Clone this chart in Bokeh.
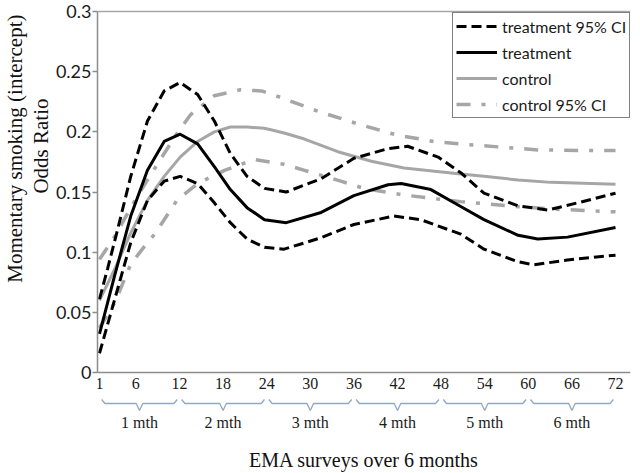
from bokeh.plotting import figure
from bokeh.models import FixedTicker, Span, Legend, LegendItem, Range1d, Title
from bokeh.embed import file_html
from bokeh.resources import INLINE
from bokeh.core.properties import value

# ---------------- data ----------------
treat_hi_x = [1, 2.1, 3.5, 5.3, 7.6, 9.9, 12.1, 14.5, 16.8, 19.0, 21.3, 23.7, 26.7, 31.5, 36.0, 40.7, 43.4, 47.6, 50.7, 53.9, 58.6, 62.7, 66.8, 72]
treat_hi_y = [0.061, 0.086, 0.119, 0.163, 0.209, 0.234, 0.241, 0.231, 0.209, 0.182, 0.163, 0.153, 0.150, 0.161, 0.178, 0.186, 0.188, 0.179, 0.166, 0.149, 0.1385, 0.135, 0.141, 0.149]

treat_x = [1, 3.1, 5.3, 7.6, 9.9, 12.1, 14.5, 16.8, 19.0, 21.3, 23.7, 26.7, 31.5, 36.0, 40.7, 42.5, 46.6, 50.7, 53.9, 58.6, 61.3, 65.4, 72]
treat_y = [0.032, 0.081, 0.130, 0.168, 0.192, 0.198, 0.190, 0.171, 0.152, 0.137, 0.127, 0.1245, 0.133, 0.147, 0.156, 0.157, 0.152, 0.138, 0.127, 0.114, 0.111, 0.1125, 0.1205]

treat_lo_x = [1, 3.1, 5.3, 7.6, 9.9, 12.1, 14.5, 16.8, 19.0, 21.3, 23.7, 26.4, 31.5, 36.0, 41.5, 45.2, 50.7, 53.9, 58.6, 60.8, 65.4, 72]
treat_lo_y = [0.016, 0.061, 0.108, 0.143, 0.159, 0.163, 0.157, 0.141, 0.1245, 0.111, 0.104, 0.1025, 0.112, 0.123, 0.130, 0.127, 0.115, 0.1025, 0.092, 0.0895, 0.0935, 0.0975]

control_x = [1, 3.1, 5.3, 7.6, 9.9, 12.1, 14.5, 16.8, 19.0, 21.3, 23.7, 26.4, 29.2, 33.8, 38.4, 42.9, 50.7, 53.9, 58.6, 63.1, 72]
control_y = [0.060, 0.086, 0.116, 0.143, 0.163, 0.179, 0.192, 0.200, 0.204, 0.204, 0.203, 0.199, 0.194, 0.1835, 0.1755, 0.170, 0.165, 0.163, 0.160, 0.158, 0.1565]

ctrl_hi_x = [1, 3.1, 5.3, 7.6, 9.9, 11.7, 13.5, 16.8, 20.4, 23.3, 25.5, 31.1, 36.6, 41.8, 47.0, 50.5, 55.8, 61.3, 66.8, 72]
ctrl_hi_y = [0.094, 0.113, 0.137, 0.160, 0.182, 0.199, 0.214, 0.230, 0.235, 0.234, 0.2295, 0.217, 0.2065, 0.1975, 0.192, 0.190, 0.1875, 0.185, 0.1845, 0.1845]

ctrl_lo_x = [1, 3.1, 5.3, 7.6, 8.6, 9.9, 11.7, 14.5, 18.2, 22.3, 26.4, 29.2, 34.2, 37.4, 42.9, 48.4, 50.7, 57.2, 62.7, 68.2, 72]
ctrl_lo_y = [0.037, 0.058, 0.090, 0.108, 0.115, 0.127, 0.1435, 0.157, 0.168, 0.177, 0.173, 0.168, 0.159, 0.153, 0.1475, 0.1435, 0.142, 0.1385, 0.136, 0.1345, 0.1335]

x_tick_vals = [1, 6, 12, 18, 24, 30, 36, 42, 48, 54, 60, 66, 72]
x_tick_labels = ["1", "6", "12", "18", "24", "30", "36", "42", "48", "54", "60", "66", "72"]
month_edges = [1, 12, 24, 36, 48, 60, 72]
month_labels = ["1 mth", "2 mth", "3 mth", "4 mth", "5 mth", "6 mth"]
y_ticks = [0, 0.05, 0.1, 0.15, 0.2, 0.25, 0.3]
y_tick_labels = ["0", "0.05", "0.1", "0.15", "0.2", "0.25", "0.3"]

legend_labels = ["treatment 95% CI", "treatment", "control", "control 95% CI"]
y_title_lines = ["Momentary smoking (intercept)", "Odds Ratio"]
x_title = "EMA surveys over 6 months"

# ---------------- layout ----------------
W, H = 640, 473
BORDER_L, BORDER_R, BORDER_B = 96, 10, 40
FRAME_H = H - BORDER_B          # frame spans screen y 0..433
ZERO_PX = 372                   # screen y of value 0
TOP_PX = 11                     # screen y of value 0.3
PPU_Y = (ZERO_PX - TOP_PX) / y_ticks[-1]
y0 = -(FRAME_H - ZERO_PX) / PPU_Y
y1 = ZERO_PX / PPU_Y

GRAY = "#A6A6A6"
AXIS_GRAY = "#8C8C8C"
BRACE = "#8FA8C6"
TXT = "#1a1a1a"

p = figure(width=W, height=H, output_backend="svg", toolbar_location=None,
           x_range=Range1d(0.7254, 74.06), y_range=Range1d(y0, y1),
           min_border_left=BORDER_L, min_border_right=BORDER_R,
           min_border_top=0, min_border_bottom=BORDER_B)
p.outline_line_color = None
p.background_fill_color = "white"
p.border_fill_color = "white"
p.xgrid.visible = False
p.ygrid.ticker = FixedTicker(ticks=[y_ticks[-1]])
p.ygrid.grid_line_color = GRAY
p.ygrid.grid_line_width = 1.5

# y axis
yax = p.yaxis[0]
yax.ticker = FixedTicker(ticks=y_ticks)
yax.major_label_overrides = {t: l for t, l in zip(y_ticks, y_tick_labels)}
yax.bounds = (y_ticks[0], y_ticks[-1])
yax.axis_line_color = AXIS_GRAY
yax.axis_line_width = 1.5
yax.major_tick_line_color = AXIS_GRAY
yax.major_tick_line_width = 1.5
yax.major_tick_in = 0
yax.major_tick_out = 5
yax.minor_tick_line_color = None
yax.major_label_standoff = 1
yax.major_label_text_font = "Lato"
yax.major_label_text_font_size = "18px"
yax.major_label_text_color = TXT

# y title: two lines in the left panel, placed in the upper part of the axis
title_kw = dict(text_font="Liberation Serif", text_font_size="21px", text_font_style="normal",
                text_color="#111111", standoff=0, align="right")
p.add_layout(Title(text=y_title_lines[1], offset=98, **title_kw), "left")
p.add_layout(Title(text=y_title_lines[0], offset=14, **title_kw), "left")

# x axis (title only)
xax = p.xaxis[0]
xax.ticker = FixedTicker(ticks=[])
xax.axis_line_color = None
xax.major_tick_line_color = None
xax.minor_tick_line_color = None
xax.major_tick_out = 0
xax.major_tick_in = 0
xax.major_label_standoff = 0
xax.axis_label = x_title
xax.axis_label_text_font = "Liberation Serif"
xax.axis_label_text_font_size = "20px"
xax.axis_label_text_font_style = "normal"
xax.axis_label_text_color = "#111111"
xax.axis_label_standoff = 15

# baseline at y = 0
p.add_layout(Span(location=0, dimension="width", line_color=AXIS_GRAY, line_width=1.5))

# x tick labels
p.text(x=x_tick_vals, y=[0] * len(x_tick_vals), text=x_tick_labels,
       text_font=value("Liberation Serif"), text_font_size="16px",
       text_align="center", text_baseline="middle", y_offset=11, text_color=TXT)

# month braces
hook_y = -27 / PPU_Y
line_y = -31 / PPU_Y
tip_y = -38 / PPU_Y
gap, hook = 0.3, 0.45
bx, by = [], []
for a, b in zip(month_edges[:-1], month_edges[1:]):
    s, e = a + gap, b - gap
    m = (a + b) / 2
    bx.append([s, s + hook, m - hook, m, m + hook, e - hook, e])
    by.append([hook_y, line_y, line_y, tip_y, line_y, line_y, hook_y])
p.multi_line(xs=bx, ys=by, line_color=BRACE, line_width=1.3)

mids = [(a + b) / 2 for a, b in zip(month_edges[:-1], month_edges[1:])]
p.text(x=mids, y=[0] * len(mids), text=month_labels,
       text_font=value("Liberation Serif"), text_font_size="16px",
       text_align="center", text_baseline="middle", y_offset=50, text_color=TXT)

# series
CI_DASH = "14 11 4 11"
T_DASH = "10 5"
r_chi = p.line(ctrl_hi_x, ctrl_hi_y, line_color=GRAY, line_width=3.5, line_dash=CI_DASH)
r_clo = p.line(ctrl_lo_x, ctrl_lo_y, line_color=GRAY, line_width=3.5, line_dash=CI_DASH)
r_c = p.line(control_x, control_y, line_color=GRAY, line_width=3, line_join="round")
r_tlo = p.line(treat_lo_x, treat_lo_y, line_color="black", line_width=3, line_dash=T_DASH)
r_thi = p.line(treat_hi_x, treat_hi_y, line_color="black", line_width=3, line_dash=T_DASH)
r_t = p.line(treat_x, treat_y, line_color="black", line_width=3, line_join="round")

legend = Legend(items=[
    LegendItem(label=legend_labels[0], renderers=[r_thi]),
    LegendItem(label=legend_labels[1], renderers=[r_t]),
    LegendItem(label=legend_labels[2], renderers=[r_c]),
    LegendItem(label=legend_labels[3], renderers=[r_chi]),
], location=(355, FRAME_H - 118))
legend.glyph_width = 41
legend.glyph_height = 20
legend.label_height = 20
legend.label_standoff = 5
legend.padding = 3
legend.spacing = 6
legend.margin = 0
legend.label_text_font = "Lato"
legend.label_text_font_size = "16px"
legend.label_text_color = TXT
legend.border_line_color = "black"
legend.border_line_width = 1.2
legend.background_fill_alpha = 1
p.add_layout(legend)

open("out.html", "w").write(file_html(p, INLINE))
